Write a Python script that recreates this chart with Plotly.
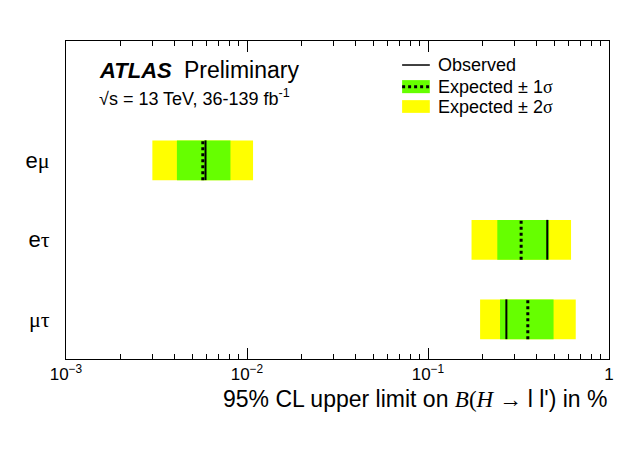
import plotly.graph_objects as go

# channels, top to bottom
channels = ["eμ", "eτ", "μτ"]
ypos = [2.5, 1.5, 0.5]

# 95% CL upper limits on B(H -> l l') in %
observed = [0.0059, 0.456, 0.271]
expected = [0.0057, 0.327, 0.356]
exp_1s_lo = [0.0041, 0.2415, 0.250]
exp_1s_hi = [0.0081, 0.467, 0.494]
exp_2s_lo = [0.0030, 0.174, 0.194]
exp_2s_hi = [0.0108, 0.617, 0.655]

half = 0.25
SANS = "Liberation Sans, Arial, Helvetica, sans-serif"
SERIF = "Liberation Serif, Times New Roman, serif"
YELLOW = "#ffff00"
GREEN = "#66ff00"


def greek(s):
    out = ""
    for ch in s:
        if ch in "μτσ":
            out += "<span style='font-family:%s'>%s</span>" % (SERIF, ch)
        else:
            out += ch
    return out


def vlines(vals):
    xs, ys = [], []
    for v, y in zip(vals, ypos):
        xs += [v, v, None]
        ys += [y - half, y + half, None]
    return xs, ys


fig = go.Figure()

fig.add_trace(go.Bar(
    y=ypos, base=exp_2s_lo, x=[h - l for l, h in zip(exp_2s_lo, exp_2s_hi)],
    orientation="h", width=2 * half, marker=dict(color=YELLOW, line_width=0),
    showlegend=False, hoverinfo="skip"))
fig.add_trace(go.Bar(
    y=ypos, base=exp_1s_lo, x=[h - l for l, h in zip(exp_1s_lo, exp_1s_hi)],
    orientation="h", width=2 * half, marker=dict(color=GREEN, line_width=0),
    showlegend=False, hoverinfo="skip"))

ox, oy = vlines(observed)
fig.add_trace(go.Scatter(x=ox, y=oy, mode="lines",
                         line=dict(color="black", width=2), showlegend=False))
ex, ey = vlines(expected)
fig.add_trace(go.Scatter(x=ex, y=ey, mode="lines",
                         line=dict(color="black", width=3, dash="dot"),
                         showlegend=False))

fig.update_layout(
    width=632, height=441,
    margin=dict(l=58, r=31, t=33, b=90),
    paper_bgcolor="white", plot_bgcolor="white",
    barmode="overlay",
    font=dict(family=SANS, color="black"),
    xaxis=dict(
        type="log", range=[-3, 0],
        tickvals=[0.001, 0.01, 0.1, 1],
        ticktext=["10<sup>−3</sup>", "10<sup>−2</sup>", "10<sup>−1</sup>", "1"],
        ticks="inside", ticklen=11, tickwidth=1, tickcolor="black",
        minor=dict(ticks="inside", ticklen=5, tickcolor="black",
                   dtick="D1", showgrid=False),
        showline=True, linecolor="black", linewidth=1, mirror="ticks",
        showgrid=False, zeroline=False,
        tickfont=dict(size=17, family=SANS),
    ),
    yaxis=dict(
        range=[0, 4], tickvals=ypos, ticktext=[greek(c) for c in channels],
        ticks="", showline=True, linecolor="black", linewidth=1, mirror=True,
        showgrid=False, zeroline=False, ticklabelstandoff=11,
        tickfont=dict(size=22, family=SANS),
    ),
)

# x-axis title
fig.add_annotation(
    xref="paper", yref="paper", x=1.0, y=-0.127, xanchor="right", yanchor="middle",
    showarrow=False, font=dict(size=23, family=SANS),
    text="95%% CL upper limit on <span style='font-family:%s'><i>B</i>(<i>H</i> → </span>l l') in %%" % SERIF)

# ATLAS label
fig.add_annotation(
    xref="paper", yref="paper", x=0.058, y=0.909, xanchor="left", yanchor="middle",
    showarrow=False, font=dict(size=22, family=SANS),
    text="<b><i>ATLAS</i></b>  <span style='font-size:23px'>Preliminary</span>")
fig.add_annotation(
    xref="paper", yref="paper", x=0.058, y=0.823, xanchor="left", yanchor="middle",
    showarrow=False, font=dict(size=18, family=SANS),
    text="√s = 13 TeV, 36-139 fb<sup>-1</sup>")

# legend drawn by hand
lx0, lx1 = 0.619, 0.670
fig.add_shape(type="line", xref="paper", yref="paper", x0=lx0, x1=lx1,
              y0=0.9245, y1=0.9245, line=dict(color="black", width=1.5))
fig.add_shape(type="rect", xref="paper", yref="paper", x0=lx0, x1=lx1,
              y0=0.836, y1=0.877, fillcolor=GREEN, line_width=0)
fig.add_shape(type="line", xref="paper", yref="paper", x0=lx0, x1=lx1,
              y0=0.8565, y1=0.8565, line=dict(color="black", width=3, dash="dot"))
fig.add_shape(type="rect", xref="paper", yref="paper", x0=lx0, x1=lx1,
              y0=0.774, y1=0.814, fillcolor=YELLOW, line_width=0)
leg_text = ["Observed", "Expected ± 1" + greek("σ"), "Expected ± 2" + greek("σ")]
for t, y in zip(leg_text, [0.9245, 0.856, 0.794]):
    fig.add_annotation(xref="paper", yref="paper", x=0.681, y=y,
                       xanchor="left", yanchor="middle", showarrow=False,
                       font=dict(size=18, family=SANS), text=t)

fig.write_html("out.html")
